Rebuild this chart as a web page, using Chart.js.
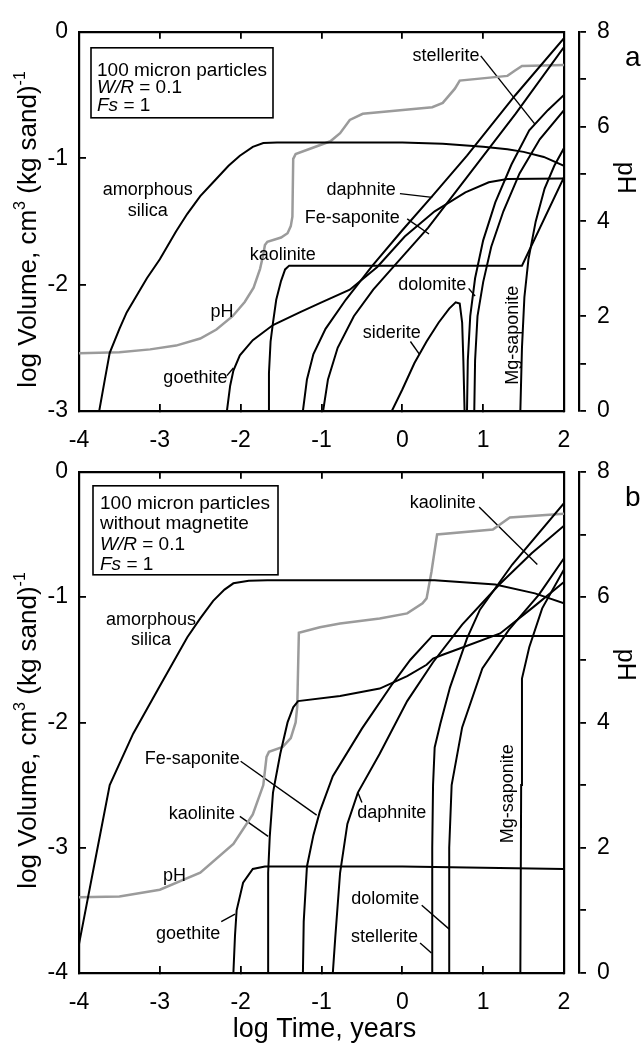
<!DOCTYPE html>
<html lang="en">
<head>
<meta charset="UTF-8">
<title>Mineral volumes and pH vs. time</title>
<style>
    * { margin: 0; padding: 0; box-sizing: border-box; }
    body { background: #fff; width: 644px; height: 1044px; position: relative; overflow: hidden; }
    canvas { position: absolute; left: 0; }
    #chartA { top: 0; }
    #chartB { top: 440px; }
</style>
</head>
<body>
<canvas id="chartA" width="644" height="452"></canvas>
<canvas id="chartB" width="644" height="604"></canvas>

<script src="https://cdn.jsdelivr.net/npm/chart.js"></script>
<script>
    const FONT = "'Liberation Sans', Arial, Helvetica, sans-serif";

    // axis ticks
    const timeTicks = [-4, -3, -2, -1, 0, 1, 2];
    const volTicksA = [-3, -2, -1, 0];
    const volTicksB = [-4, -3, -2, -1, 0];
    const phTicks = [0, 1, 2, 3, 4, 5, 6, 7, 8];
    const phLabels = [0, 2, 4, 6, 8];

    // ---- panel a: 100 micron particles, W/R = 0.1 ----  [log time, log volume]
    const silicaA = [[-3.75, -3], [-3.68, -2.75], [-3.62, -2.54], [-3.5, -2.35], [-3.41, -2.22], [-3.16, -1.95],
        [-3.0, -1.8], [-2.8, -1.58], [-2.66, -1.44], [-2.5, -1.3], [-2.34, -1.19], [-2.15, -1.06], [-2.01, -0.98],
        [-1.85, -0.91], [-1.72, -0.88], [-1.55, -0.875], [0, -0.875], [0.5, -0.885], [1.0, -0.91], [1.3, -0.93],
        [1.5, -0.95], [1.75, -0.99], [2, -1.06]];
    const goethiteA = [[-2.17, -3], [-2.13, -2.8], [-2.09, -2.68], [-2.01, -2.56], [-1.85, -2.44], [-1.6, -2.32],
        [-1.27, -2.22], [-1.0, -2.14], [-0.65, -2.04], [-0.31, -1.86], [0.03, -1.62], [0.4, -1.42], [0.78, -1.27],
        [1.07, -1.19], [1.3, -1.165], [2, -1.16]];
    const kaoliniteA = [[-1.66, -3], [-1.65, -2.7], [-1.63, -2.45], [-1.6, -2.3], [-1.56, -2.12], [-1.5, -1.97],
        [-1.45, -1.88], [-1.4, -1.85], [1.48, -1.85], [2, -1.15]];
    const daphniteA = [[-1.23, -3], [-1.18, -2.75], [-1.1, -2.55], [-0.95, -2.35], [-0.7, -2.12], [-0.37, -1.85],
        [0, -1.57], [0.37, -1.3], [0.8, -0.98], [1.4, -0.5], [2, -0.05]];
    const feSaponiteA = [[-0.98, -3], [-0.92, -2.75], [-0.8, -2.5], [-0.6, -2.25], [-0.36, -2.04], [-0.07, -1.83],
        [0.32, -1.55], [0.8, -1.15], [1.4, -0.65], [2, -0.12]];
    const stelleriteA = [[0.8, -3], [0.81, -2.6], [0.84, -2.25], [0.9, -1.95], [1.0, -1.65], [1.15, -1.35],
        [1.35, -1.05], [1.57, -0.78], [1.8, -0.62], [2, -0.5]];
    const dolomiteA = [[0.89, -3], [0.9, -2.6], [0.93, -2.25], [1.0, -1.98], [1.1, -1.7], [1.25, -1.42],
        [1.45, -1.12], [1.7, -0.85], [2, -0.62]];
    const sideriteA = [[-0.13, -3], [0.0, -2.83], [0.15, -2.62], [0.3, -2.45], [0.45, -2.3], [0.58, -2.19],
        [0.66, -2.14], [0.71, -2.15], [0.74, -2.3], [0.755, -2.6], [0.77, -3]];
    const mgSaponiteA = [[1.46, -3], [1.48, -2.5], [1.51, -2.1], [1.56, -1.8], [1.65, -1.5], [1.76, -1.24],
        [1.88, -1.06], [2, -0.92]];
    const phA = [[-4, 1.22], [-3.5, 1.24], [-3.12, 1.3], [-2.8, 1.38], [-2.5, 1.53], [-2.3, 1.72], [-2.1, 2.0],
        [-1.95, 2.3], [-1.84, 2.6], [-1.76, 3.0], [-1.72, 3.3], [-1.7, 3.5], [-1.67, 3.57], [-1.5, 3.66],
        [-1.42, 3.75], [-1.38, 3.9], [-1.36, 4.1], [-1.35, 5.32], [-1.32, 5.42], [-0.89, 5.69], [-0.77, 5.86],
        [-0.65, 6.14], [-0.49, 6.27], [0.37, 6.41], [0.5, 6.5], [0.65, 6.8], [0.71, 6.97], [1.3, 7.07],
        [1.39, 7.18], [1.48, 7.28], [2, 7.3]];

    // ---- panel b: same run without magnetite ----
    const silicaB = [[-4, -3.77], [-3.8, -3.1], [-3.62, -2.5], [-3.33, -2.09], [-3.0, -1.71], [-2.66, -1.32],
        [-2.5, -1.17], [-2.34, -1.03], [-2.2, -0.94], [-2.09, -0.89], [-1.9, -0.87], [-1.67, -0.865],
        [0.4, -0.865], [1.15, -0.9], [1.64, -0.97], [2, -1.05]];
    const goethiteB = [[-2.09, -4], [-2.07, -3.7], [-2.05, -3.5], [-1.97, -3.28], [-1.85, -3.17], [-1.7, -3.15],
        [0, -3.15], [2, -3.17]];
    const kaoliniteB = [[-1.66, -4], [-1.66, -3.2], [-1.64, -2.91], [-1.6, -2.56], [-1.51, -2.25], [-1.42, -2.0],
        [-1.35, -1.88], [-1.29, -1.83], [-0.77, -1.79], [-0.28, -1.73], [0.06, -1.63], [0.3, -1.54],
        [0.38, -1.49], [0.5, -1.46], [0.71, -1.41], [1.21, -1.29], [1.62, -1.08], [2, -0.88]];
    const feSaponiteB = [[-1.23, -4], [-1.22, -3.59], [-1.18, -3.15], [-1.1, -2.9], [-1.02, -2.71], [-0.86, -2.43],
        [-0.5, -2.05], [-0.12, -1.69], [0.1, -1.5], [0.37, -1.31], [2, -1.31]];
    const daphniteB = [[-0.86, -4], [-0.83, -3.72], [-0.77, -3.2], [-0.68, -2.81], [-0.55, -2.56], [-0.28, -2.25],
        [0.06, -1.83], [0.38, -1.52], [0.74, -1.22], [1.2, -0.9], [1.6, -0.65], [2, -0.43]];
    const stelleriteB = [[0.37, -4], [0.37, -3.0], [0.38, -2.5], [0.4, -2.2], [0.47, -2.01], [0.59, -1.72],
        [0.8, -1.33], [0.96, -1.1], [1.36, -0.74], [2, -0.25]];
    const dolomiteB = [[0.58, -4], [0.58, -3], [0.61, -2.5], [0.74, -2.04], [0.99, -1.57], [1.32, -1.26],
        [1.69, -0.98], [2, -0.69]];
    const mgSaponiteB = [[1.46, -4], [1.47, -2.5], [1.48, -1.65], [1.57, -1.4], [1.73, -1.09], [2, -0.78]];
    const phB = [[-4, 1.21], [-3.5, 1.22], [-3.0, 1.33], [-2.5, 1.6], [-2.09, 2.06], [-1.85, 2.53], [-1.72, 3.0],
        [-1.68, 3.45], [-1.65, 3.53], [-1.48, 3.61], [-1.38, 3.75], [-1.32, 4.0], [-1.3, 4.25], [-1.28, 5.43],
        [-1.02, 5.52], [-0.77, 5.58], [-0.28, 5.66], [0.06, 5.74], [0.25, 5.9], [0.3, 5.98], [0.36, 6.4],
        [0.43, 7.0], [1.12, 7.08], [1.33, 7.27], [2, 7.33]];

    // label text and where it sits (data units, centre of text)
    const labelsA = [
        {t: 'amorphous', x: -3.15, y: -1.25}, {t: 'silica', x: -3.15, y: -1.42},
        {t: 'pH', x: -2.23, y: -2.22}, {t: 'goethite', x: -2.56, y: -2.74},
        {t: 'kaolinite', x: -1.48, y: -1.77}, {t: 'daphnite', x: -0.51, y: -1.25},
        {t: 'Fe-saponite', x: -0.62, y: -1.47}, {t: 'stellerite', x: 0.54, y: -0.19},
        {t: 'dolomite', x: 0.37, y: -2.0}, {t: 'siderite', x: -0.13, y: -2.38},
        {t: 'Mg-saponite', x: 1.37, y: -2.4, rot: true}
    ];
    const leadersA = [
        [[-2.17, -2.72], [-2.09, -2.66]], [[-0.03, -1.28], [0.37, -1.31]], [[0.06, -1.48], [0.33, -1.6]],
        [[0.97, -0.19], [1.64, -0.73]], [[0.82, -2.03], [0.9, -2.09]], [[0.1, -2.45], [0.21, -2.55]]
    ];
    const labelsB = [
        {t: 'amorphous', x: -3.11, y: -1.18}, {t: 'silica', x: -3.11, y: -1.34},
        {t: 'Fe-saponite', x: -2.6, y: -2.29}, {t: 'kaolinite', x: -2.48, y: -2.73},
        {t: 'pH', x: -2.82, y: -3.23}, {t: 'goethite', x: -2.65, y: -3.69},
        {t: 'daphnite', x: -0.13, y: -2.72}, {t: 'dolomite', x: -0.21, y: -3.41},
        {t: 'stellerite', x: -0.22, y: -3.71}, {t: 'kaolinite', x: 0.5, y: -0.25},
        {t: 'Mg-saponite', x: 1.31, y: -2.57, rot: true}
    ];
    const leadersB = [
        [[-2.0, -2.31], [-1.06, -2.74]], [[-2.01, -2.75], [-1.66, -2.91]], [[-2.24, -3.59], [-2.07, -3.53]],
        [[-0.55, -2.56], [-0.5, -2.64]], [[0.24, -3.46], [0.58, -3.65]], [[0.22, -3.76], [0.36, -3.84]],
        [[0.95, -0.28], [1.67, -0.74]]
    ];

    const boxA = [
        [{t: '100 micron particles'}],
        [{t: 'W/R', i: true}, {t: ' = 0.1'}],
        [{t: 'Fs', i: true}, {t: ' = 1'}]
    ];
    const boxB = [
        [{t: '100 micron particles'}],
        [{t: 'without magnetite'}],
        [{t: 'W/R', i: true}, {t: ' = 0.1'}],
        [{t: 'Fs', i: true}, {t: ' = 1'}]
    ];

    function pts(arr) {
        return arr.map(([x, y]) => ({x, y}));
    }

    function drawRich(ctx, parts, x, y, size) {
        let cx = x;
        parts.forEach(p => {
            ctx.font = (p.i ? 'italic ' : '') + size + 'px ' + FONT;
            ctx.fillText(p.t, cx, y);
            cx += ctx.measureText(p.t).width;
        });
    }

    // axis titles, box, curve names, panel letter
    function decoPlugin(p) {
        return {
            id: 'deco',
            afterDraw(chart) {
                const {ctx, chartArea: a, scales} = chart;
                const sx = scales.x, sy = scales.y;
                ctx.save();
                ctx.fillStyle = '#000';
                ctx.strokeStyle = '#000';

                // curve names
                ctx.font = '18px ' + FONT;
                ctx.textAlign = 'center';
                ctx.textBaseline = 'middle';
                p.labels.forEach(l => {
                    const px = sx.getPixelForValue(l.x), py = sy.getPixelForValue(l.y);
                    if (l.rot) {
                        ctx.save();
                        ctx.translate(px, py);
                        ctx.rotate(-Math.PI / 2);
                        ctx.fillText(l.t, 0, 0);
                        ctx.restore();
                    } else {
                        ctx.fillText(l.t, px, py);
                    }
                });

                // parameter box
                ctx.lineWidth = 1.6;
                ctx.strokeRect(a.left + p.box.dx, a.top + p.box.dy, p.box.w, p.box.h);
                ctx.textAlign = 'left';
                ctx.textBaseline = 'alphabetic';
                p.boxText.forEach((line, k) => {
                    drawRich(ctx, line, a.left + p.box.tx, a.top + p.box.ty + k * p.box.lh, 19);
                });

                // left axis title with superscripts
                const big = '26px ' + FONT, small = '16px ' + FONT;
                const parts = [
                    {t: 'log Volume, cm', f: big, up: 0}, {t: '3', f: small, up: 11},
                    {t: ' (kg sand)', f: big, up: 0}, {t: '-1', f: small, up: 11}
                ];
                let total = 0;
                parts.forEach(q => { ctx.font = q.f; total += ctx.measureText(q.t).width; });
                ctx.save();
                ctx.translate(36, (a.top + a.bottom) / 2 + 8);
                ctx.rotate(-Math.PI / 2);
                let cx = -total / 2;
                parts.forEach(q => {
                    ctx.font = q.f;
                    ctx.fillText(q.t, cx, -q.up);
                    cx += ctx.measureText(q.t).width;
                });
                ctx.restore();

                // right axis title
                ctx.save();
                ctx.font = '25px ' + FONT;
                ctx.textAlign = 'center';
                ctx.textBaseline = 'middle';
                ctx.translate(625, a.top + 0.385 * (a.bottom - a.top));
                ctx.rotate(Math.PI / 2);
                ctx.fillText('pH', 0, 0);
                ctx.restore();

                // panel letter
                ctx.font = '28px ' + FONT;
                ctx.textAlign = 'left';
                ctx.fillText(p.letter, 625, a.top + 34);

                // bottom axis title
                if (p.xTitle) {
                    ctx.font = '27px ' + FONT;
                    ctx.textAlign = 'center';
                    ctx.fillText(p.xTitle, (a.left + a.right) / 2 + 3, a.bottom + 64);
                }
                ctx.restore();
            }
        };
    }

    function buildPanel(id, p) {
        const line = (data, extra) => Object.assign({
            data: pts(data), showLine: true, fill: false, pointRadius: 0,
            borderColor: '#000', borderWidth: 2, tension: 0, yAxisID: 'y'
        }, extra);

        const datasets = p.curves.map(c => line(c));
        datasets.push(line(p.ph, {borderColor: '#9b9b9b', borderWidth: 2.5, yAxisID: 'ph'}));
        p.leaders.forEach(l => datasets.push(line(l, {borderWidth: 1.4})));

        const tickFont = {family: FONT, size: 23};
        const inside = {display: true, drawOnChartArea: false, drawTicks: true, tickLength: -7, color: '#000', lineWidth: 1.8};
        const edge = {display: true, color: '#000', width: 2.2};

        new Chart(document.getElementById(id), {
            type: 'scatter',
            data: {datasets},
            options: {
                responsive: false,
                animation: false,
                devicePixelRatio: 1,
                layout: {padding: 0},
                plugins: {legend: {display: false}, tooltip: {enabled: false}},
                scales: {
                    x: {
                        type: 'linear', position: 'bottom', min: -4, max: 2,
                        afterBuildTicks: s => { s.ticks = timeTicks.map(v => ({value: v})); },
                        ticks: {font: tickFont, color: '#000', padding: 23, maxRotation: 0, autoSkip: false,
                            callback: v => String(v)},
                        grid: inside, border: edge,
                        afterFit: s => { s.height = p.bottomH; }
                    },
                    xTop: {
                        type: 'linear', position: 'top', min: -4, max: 2,
                        afterBuildTicks: s => { s.ticks = timeTicks.map(v => ({value: v})); },
                        ticks: {display: false},
                        grid: inside, border: edge,
                        afterFit: s => { s.height = p.topH; }
                    },
                    y: {
                        type: 'linear', position: 'left', min: p.yMin, max: 0,
                        afterBuildTicks: s => { s.ticks = p.volTicks.map(v => ({value: v})); },
                        ticks: {font: tickFont, color: '#000', padding: 18, autoSkip: false,
                            callback: v => String(v)},
                        grid: inside, border: edge,
                        afterFit: s => { s.width = 79; }
                    },
                    gap: {
                        type: 'linear', position: 'right', weight: 0, min: 0, max: 1,
                        ticks: {display: false},
                        grid: {display: false},
                        border: edge,
                        afterFit: s => { s.width = 15; }
                    },
                    ph: {
                        type: 'linear', position: 'right', weight: 1, min: 0, max: 8,
                        afterBuildTicks: s => { s.ticks = phTicks.map(v => ({value: v})); },
                        ticks: {font: tickFont, color: '#000', padding: 11, autoSkip: false,
                            callback: v => phLabels.includes(v) ? String(v) : ''},
                        grid: {display: true, drawOnChartArea: false, drawTicks: true, tickLength: 7,
                            color: '#000', lineWidth: 1.8},
                        border: edge,
                        afterFit: s => { s.width = 65; }
                    }
                }
            },
            plugins: [decoPlugin(p)]
        });
    }

    buildPanel('chartA', {
        yMin: -3, volTicks: volTicksA, topH: 23, bottomH: 41,
        curves: [silicaA, goethiteA, kaoliniteA, daphniteA, feSaponiteA, stelleriteA, dolomiteA, sideriteA, mgSaponiteA],
        ph: phA, labels: labelsA, leaders: leadersA, letter: 'a',
        box: {dx: 12, dy: 16, w: 182, h: 70, tx: 18, ty: 44, lh: 17.5},
        boxText: boxA
    });

    buildPanel('chartB', {
        yMin: -4, volTicks: volTicksB, topH: 17, bottomH: 71,
        curves: [silicaB, goethiteB, kaoliniteB, feSaponiteB, daphniteB, stelleriteB, dolomiteB, mgSaponiteB],
        ph: phB, labels: labelsB, leaders: leadersB, letter: 'b',
        box: {dx: 14, dy: 14, w: 185, h: 89, tx: 21, ty: 37, lh: 20.5},
        boxText: boxB, xTitle: 'log Time, years'
    });
</script>
</body>
</html>
